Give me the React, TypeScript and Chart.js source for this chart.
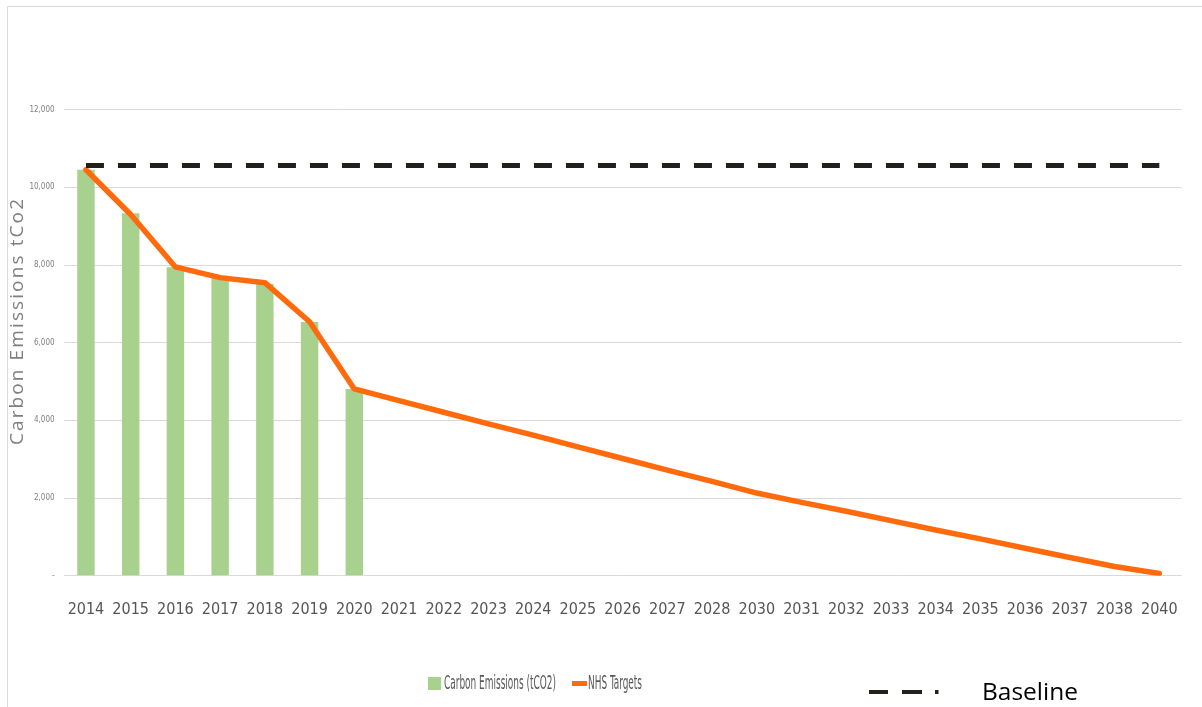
import React, { useEffect, useRef } from 'react';
import { Chart, registerables } from 'chart.js';

Chart.register(...registerables);

// ---- Data ----
const YEARS = [
  '2014', '2015', '2016', '2017', '2018', '2019', '2020', '2021', '2022', '2023', '2024', '2025',
  '2026', '2027', '2028', '2030', '2031', '2032', '2033', '2034', '2035', '2036', '2037', '2038', '2040',
];
const EMISSIONS = [10450, 9330, 7940, 7660, 7510, 6530, 4810];
const NHS_TARGETS = [
  10450, 9300, 7950, 7675, 7545, 6540, 4810, 4510, 4210, 3910, 3620, 3320,
  3020, 2720, 2430, 2130, 1890, 1660, 1420, 1180, 950, 710, 470, 240, 60,
];
const BASELINE_VALUE = 10560;
const Y_MAX = 12000;
const Y_STEP = 2000;
const SERIES_NAMES = ['Carbon Emissions (tCO2)', 'NHS Targets', 'Baseline'];
const Y_TITLE = 'Carbon Emissions tCo2';

const NARROW = "'Liberation Sans Narrow', 'DejaVu Sans Condensed', 'Arial Narrow', 'Liberation Sans', sans-serif";
const GREEN = '#A9D18E';
const ORANGE = '#FF6A0D';
const DARK = '#23201A';

function fittedText(ctx: CanvasRenderingContext2D, text: string, x: number, y: number, targetW: number) {
  const w = ctx.measureText(text).width;
  ctx.save();
  ctx.translate(x, y);
  ctx.scale(targetW / w, 1);
  ctx.fillText(text, 0, 0);
  ctx.restore();
}

const decor = {
  id: 'decor',
  beforeDraw(chart: any) {
    const { ctx, width, height } = chart;
    ctx.save();
    ctx.fillStyle = '#ffffff';
    ctx.fillRect(0, 0, width, height);
    ctx.strokeStyle = '#d9d9d9';
    ctx.lineWidth = 1;
    ctx.beginPath();
    ctx.moveTo(7.5, height);
    ctx.lineTo(7.5, 6.5);
    ctx.lineTo(width, 6.5);
    ctx.stroke();
    ctx.restore();
  },
  afterDraw(chart: any) {
    const ctx: CanvasRenderingContext2D = chart.ctx;
    const ds = chart.data.datasets;
    ctx.save();

    // Y axis title
    ctx.save();
    ctx.translate(18, 321);
    ctx.rotate(-Math.PI / 2);
    ctx.font = "19px 'Open Sans', sans-serif";
    ctx.fillStyle = '#7f7f7f';
    ctx.textAlign = 'center';
    ctx.textBaseline = 'middle';
    const w = ctx.measureText(Y_TITLE).width;
    const ls = Math.max(0, (246 - w) / (Y_TITLE.length - 1));
    (ctx as any).letterSpacing = ls.toFixed(2) + 'px';
    ctx.fillText(Y_TITLE, 0, 0);
    ctx.restore();

    // Main legend
    ctx.font = '19px ' + NARROW;
    ctx.fillStyle = ds[0].backgroundColor;
    ctx.fillRect(428, 677, 13, 13);
    ctx.fillStyle = '#595959';
    ctx.textBaseline = 'middle';
    fittedText(ctx, ds[0].label, 444, 684, 112);
    ctx.fillStyle = ds[1].borderColor;
    ctx.fillRect(572, 681, 15, 5);
    ctx.fillStyle = '#595959';
    fittedText(ctx, ds[1].label, 588, 684, 54);

    // Baseline legend
    ctx.fillStyle = ds[2].borderColor;
    ctx.fillRect(869, 690, 19, 4);
    ctx.fillRect(902, 690, 20, 4);
    ctx.fillRect(935, 690, 3.5, 4);
    ctx.fillStyle = '#000000';
    ctx.font = "23px 'Open Sans', sans-serif";
    ctx.textBaseline = 'alphabetic';
    fittedText(ctx, ds[2].label, 982, 700, 96);

    ctx.restore();
  },
};

export default function App() {
  const ref = useRef<HTMLCanvasElement>(null);

  useEffect(() => {
    if (!ref.current) return;
    const chart = new Chart(ref.current, {
      type: 'bar',
      data: {
        labels: YEARS,
        datasets: [
          {
            type: 'bar',
            label: SERIES_NAMES[0],
            data: EMISSIONS,
            backgroundColor: GREEN,
            borderWidth: 0,
            barPercentage: 0.39,
            categoryPercentage: 1,
            order: 3,
          },
          {
            type: 'line',
            label: SERIES_NAMES[1],
            data: NHS_TARGETS,
            borderColor: ORANGE,
            backgroundColor: ORANGE,
            borderWidth: 5.5,
            pointRadius: 0,
            borderJoinStyle: 'round',
            borderCapStyle: 'round',
            tension: 0,
            order: 2,
          },
          {
            type: 'line',
            label: SERIES_NAMES[2],
            data: YEARS.map(() => BASELINE_VALUE),
            borderColor: DARK,
            backgroundColor: DARK,
            borderWidth: 5,
            borderDash: [18, 14],
            borderCapStyle: 'butt',
            pointRadius: 0,
            order: 1,
          },
        ] as any,
      },
      options: {
        animation: false,
        responsive: false,
        devicePixelRatio: 1,
        layout: { padding: { top: 109.6, right: 18.6, left: 0, bottom: 0 } },
        plugins: {
          legend: { display: false },
          tooltip: { enabled: false },
          title: { display: false },
        },
        scales: {
          x: {
            offset: true,
            grid: { display: false, drawTicks: false },
            border: { display: false },
            ticks: {
              autoSkip: false,
              maxRotation: 0,
              minRotation: 0,
              padding: 24,
              color: '#555555',
              font: { family: NARROW, size: 16 },
            },
            afterFit: (scale: any) => {
              scale.height = 131.2;
            },
          },
          y: {
            min: 0,
            max: Y_MAX,
            grid: { color: '#d9d9d9', lineWidth: 1, drawTicks: false },
            border: { display: false },
            ticks: {
              stepSize: Y_STEP,
              padding: 9,
              color: '#808080',
              font: { family: NARROW, size: 8 },
              callback: (v: any) => (Number(v) === 0 ? '-' : Number(v).toLocaleString('en-US')),
            },
            afterFit: (scale: any) => {
              scale.width = 63.6;
            },
          },
        },
      } as any,
      plugins: [decor],
    });
    return () => chart.destroy();
  }, []);

  return (
    <div style={{ position: 'absolute', left: 0, top: 0, width: 1202, height: 707 }}>
      <canvas ref={ref} width={1202} height={707} style={{ display: 'block' }} />
    </div>
  );
}
